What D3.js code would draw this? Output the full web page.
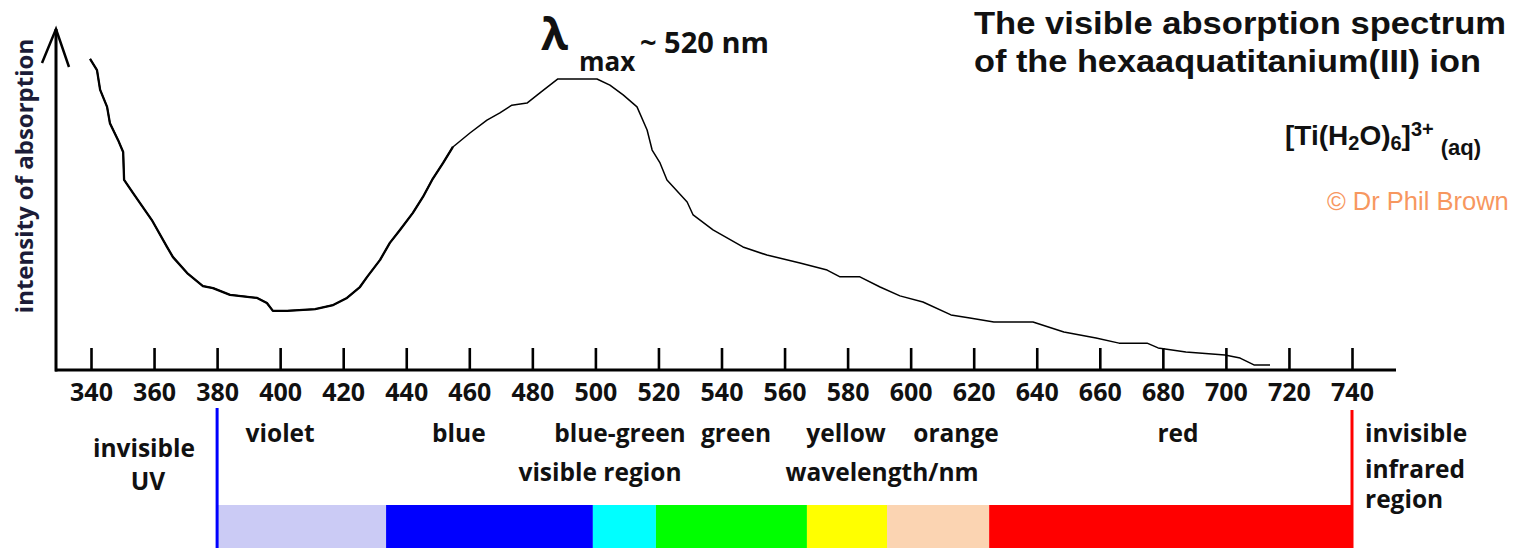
<!DOCTYPE html>
<html>
<head>
<meta charset="utf-8">
<script src="https://cdn.jsdelivr.net/npm/d3@7"></script>
<style>
  html, body { margin: 0; padding: 0; background: #fff; }
  svg { display: block; }
  text { font-family: "Open Sans", sans-serif; font-weight: 700; fill: #111; }
  .arial { font-family: "Liberation Sans", Arial, sans-serif; }
</style>
</head>
<body>
<svg id="chart" width="1514" height="548"></svg>
<script>
// Absorption trace of [Ti(H2O)6]3+ (wavelength in nm, relative intensity)
const wavelengths = [
  339.7, 341.9, 342.9, 345.1, 346.0, 348.6, 350.2, 350.5, 353.3, 359.3,
  364.1, 366.0, 370.5, 375.5, 378.7, 384.1, 392.7, 395.8, 397.7, 402.2,
  411.1, 416.8, 421.2, 425.3, 427.6, 431.7, 434.8, 438.0, 442.1, 445.3,
  448.2, 451.7, 454.8, 460.2, 465.6, 469.7, 473.5, 478.3, 482.4, 488.1,
  500.5, 504.6, 508.8, 513.2, 516.4, 518.0, 520.5, 522.7, 529.1, 531.0,
  537.3, 546.8, 554.4, 564.9, 573.5, 577.6, 583.9, 590.3, 596.6, 603.9,
  612.8, 618.8, 626.4, 638.8, 648.6, 658.8, 666.1, 675.0, 678.5, 687.3,
  699.7, 704.5, 708.9, 714.0
];
const intensity = [
  91.5, 88.2, 82.4, 77.4, 72.6, 67.6, 64.1, 55.9, 52.1, 44.1,
  36.2, 33.2, 28.5, 24.7, 24.1, 22.1, 21.2, 19.7, 17.4, 17.4,
  17.9, 19.1, 21.2, 24.4, 27.4, 32.4, 37.4, 41.2, 46.2, 50.9,
  55.9, 60.9, 65.6, 69.7, 73.5, 75.6, 77.9, 78.5, 81.5, 85.6,
  85.6, 83.8, 80.9, 77.4, 70.6, 64.7, 60.9, 55.9, 49.4, 45.6,
  41.2, 36.2, 33.8, 31.5, 29.4, 27.4, 27.4, 24.4, 21.8, 20.0,
  16.2, 15.3, 14.1, 14.1, 11.2, 9.4, 7.9, 7.9, 6.5, 5.3,
  4.4, 3.5, 1.5, 1.5
];

// Wavelength axis ticks
const tickValues = [340, 360, 380, 400, 420, 440, 460, 480, 500, 520, 540,
                    560, 580, 600, 620, 640, 660, 680, 700, 720, 740];

// Colour bands of the visible region
const bandNames   = ["violet", "blue", "blue-green", "green", "yellow", "orange", "red"];
const bandStart   = [380, 433.6, 499.2, 519.2, 567.1, 592.5, 624.9];
const bandEnd     = [433.6, 499.2, 519.2, 567.1, 592.5, 624.9, 740];
const bandColors  = ["#cbcbf5", "#0000ff", "#00ffff", "#00ff00", "#ffff00", "#fbd4b2", "#ff0000"];
const bandLabelAt = [400, 456.7, 507.8, 544.6, 579.5, 614.4, 684.8];

const visibleLimits = [380, 740];

const svg = d3.select("#chart");

const x = d3.scaleLinear().domain([340, 740]).range([91, 1352]);
const y = d3.scaleLinear().domain([0, 100]).range([370, 30]);

const axisY0 = y(0);
const yAxisX = 56;

// --- curve: thin trace, drawn heavier over the short-wavelength side ---
const pts = wavelengths.map((w, i) => [w, intensity[i]]);
const line = d3.line().x(d => x(d[0])).y(d => y(d[1]));
svg.append("path")
  .datum(pts)
  .attr("fill", "none")
  .attr("stroke", "#000")
  .attr("stroke-width", 1.5)
  .attr("stroke-linejoin", "round")
  .attr("d", line);
svg.append("path")
  .datum(pts.filter(d => d[0] <= 455))
  .attr("fill", "none")
  .attr("stroke", "#000")
  .attr("stroke-width", 2.3)
  .attr("stroke-linejoin", "round")
  .attr("d", line);

// --- x axis ---
const xAxis = d3.axisBottom(x)
  .tickValues(tickValues)
  .tickSizeInner(-22)
  .tickSizeOuter(0)
  .tickPadding(13)
  .tickFormat(d3.format("d"));

const gx = svg.append("g")
  .attr("transform", `translate(0,${axisY0})`)
  .call(xAxis);
gx.select(".domain").remove();
gx.selectAll(".tick line").attr("stroke", "#000").attr("stroke-width", 2.6);
gx.selectAll(".tick text")
  .attr("fill", "#111")
  .style("font-family", "'Open Sans', sans-serif")
  .style("font-weight", 700)
  .style("font-size", "25px");

svg.append("line")
  .attr("x1", yAxisX - 1).attr("x2", x.range()[1] + 44)
  .attr("y1", axisY0).attr("y2", axisY0)
  .attr("stroke", "#000").attr("stroke-width", 3);

// --- y axis with arrow head ---
svg.append("line")
  .attr("x1", yAxisX).attr("x2", yAxisX)
  .attr("y1", axisY0 + 1.5).attr("y2", 29)
  .attr("stroke", "#000").attr("stroke-width", 3);
svg.append("path")
  .attr("d", `M${yAxisX - 14},63 L${yAxisX},29 L${yAxisX + 13},67`)
  .attr("fill", "none")
  .attr("stroke", "#000")
  .attr("stroke-width", 2.5);

svg.append("text")
  .attr("transform", "translate(33,176) rotate(-90)")
  .attr("text-anchor", "middle")
  .style("font-size", "24px")
  .style("fill", "#1c1c38")
  .text("intensity of absorption");

// --- lambda max annotation ---
svg.append("text").attr("x", 541).attr("y", 50)
  .style("font-size", "44px").text("λ");
svg.append("text").attr("x", 579).attr("y", 71)
  .style("font-size", "26px").text("max");
svg.append("text").attr("x", 640).attr("y", 53)
  .style("font-size", "29px").text("~ 520 nm");

// --- title block ---
svg.append("text").attr("class", "arial")
  .attr("x", 974).attr("y", 34)
  .attr("textLength", 532).attr("lengthAdjust", "spacingAndGlyphs")
  .style("font-size", "32px")
  .text("The visible absorption spectrum");
svg.append("text").attr("class", "arial")
  .attr("x", 974).attr("y", 72)
  .attr("textLength", 507).attr("lengthAdjust", "spacingAndGlyphs")
  .style("font-size", "32px")
  .text("of the hexaaquatitanium(III) ion");

// formula [Ti(H2O)6]3+(aq)
const f = svg.append("text").attr("class", "arial")
  .attr("x", 1285).attr("y", 145)
  .style("font-size", "28px").style("font-weight", 700).style("fill", "#111");
f.append("tspan").text("[Ti(H");
f.append("tspan").attr("dy", 5).style("font-size", "20px").text("2");
f.append("tspan").attr("dy", -5).text("O)");
f.append("tspan").attr("dy", 5).style("font-size", "20px").text("6");
f.append("tspan").attr("dy", -5).text("]");
f.append("tspan").attr("dy", -9).style("font-size", "20px").text("3+");
f.append("tspan").attr("dy", 19).attr("dx", 7).style("font-size", "22px").text("(aq)");

svg.append("text").attr("class", "arial")
  .attr("x", 1327).attr("y", 210)
  .style("font-size", "25.5px").style("font-weight", 400).style("fill", "#f7975f")
  .text("© Dr Phil Brown");

// --- colour bar of the visible spectrum ---
const barTop = 505, barBottom = 548;
svg.append("g").selectAll("rect")
  .data(bandNames)
  .join("rect")
  .attr("x", (d, i) => x(bandStart[i]))
  .attr("width", (d, i) => x(bandEnd[i]) - x(bandStart[i]))
  .attr("y", barTop)
  .attr("height", barBottom - barTop)
  .attr("fill", (d, i) => bandColors[i]);

// limits of the visible region
svg.append("line")
  .attr("x1", x(visibleLimits[0])).attr("x2", x(visibleLimits[0]))
  .attr("y1", 408).attr("y2", 548)
  .attr("stroke", "#0000ff").attr("stroke-width", 3);
svg.append("line")
  .attr("x1", x(visibleLimits[1])).attr("x2", x(visibleLimits[1]))
  .attr("y1", 410).attr("y2", 548)
  .attr("stroke", "#ff0000").attr("stroke-width", 3);

// band names
svg.append("g").selectAll("text")
  .data(bandNames)
  .join("text")
  .attr("x", (d, i) => x(bandLabelAt[i]))
  .attr("y", 442)
  .attr("text-anchor", "middle")
  .style("font-size", "24.5px")
  .text(d => d);

// region captions
const captions = [
  { t: "invisible", x: 144, y: 457, a: "middle" },
  { t: "UV", x: 148, y: 490, a: "middle" },
  { t: "visible region", x: 600, y: 481, a: "middle" },
  { t: "wavelength/nm", x: 882, y: 481, a: "middle" },
  { t: "invisible", x: 1365, y: 442, a: "start" },
  { t: "infrared", x: 1365, y: 478, a: "start" },
  { t: "region", x: 1365, y: 508, a: "start" }
];
svg.append("g").selectAll("text")
  .data(captions)
  .join("text")
  .attr("x", d => d.x).attr("y", d => d.y)
  .attr("text-anchor", d => d.a)
  .style("font-size", "24.5px")
  .text(d => d.t);
</script>
</body>
</html>
